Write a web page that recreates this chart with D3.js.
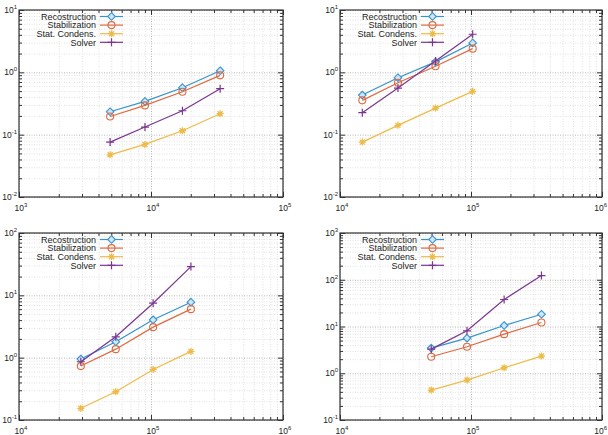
<!DOCTYPE html>
<html>
<head>
<meta charset="utf-8">
<script src="https://cdn.jsdelivr.net/npm/d3@7"></script>
<style>
  body { margin: 0; background: #fff; }
  svg { display: block; font-family: "Liberation Sans", Arial, sans-serif; }
</style>
</head>
<body>
<svg id="chart" width="608" height="435"></svg>
<script>
// series names and colours
const seriesNames = ["Recostruction", "Stabilization", "Stat. Condens.", "Solver"];
const seriesColors = ["#3593d0", "#de6a40", "#eebb48", "#7b3590"];
const seriesMarkers = ["diamond", "circle", "star", "plus"];

// panel 1
const p1_x = [4900, 9000, 17300, 33400];
const p1_recon = [0.233, 0.342, 0.567, 1.06];
const p1_stab = [0.196, 0.295, 0.489, 0.895];
const p1_stat = [0.0475, 0.0697, 0.1156, 0.217];
const p1_solver = [0.076, 0.1325, 0.242, 0.547];

// panel 2
const p2_x = [14800, 27700, 53600, 103000];
const p2_recon = [0.432, 0.82, 1.47, 2.96];
const p2_stab = [0.355, 0.682, 1.25, 2.40];
const p2_stat = [0.076, 0.141, 0.267, 0.495];
const p2_solver = [0.225, 0.56, 1.52, 4.08];

// panel 3
const p3_x = [29400, 54100, 103800, 200600];
const p3_recon = [0.95, 1.80, 4.05, 7.76];
const p3_stab = [0.733, 1.37, 3.09, 6.0];
const p3_stat = [0.154, 0.284, 0.648, 1.26];
const p3_solver = [0.86, 2.16, 7.48, 28.9];

// panel 4
const p4_x = [49700, 93200, 179000, 345000];
const p4_recon = [3.45, 5.64, 10.5, 18.3];
const p4_stab = [2.25, 3.68, 6.86, 12.2];
const p4_stat = [0.437, 0.715, 1.31, 2.33];
const p4_solver = [3.28, 8.08, 37.8, 122.7];

// axis exponents (x from..to, y from..to)
const p1_xexp = [3, 5], p1_yexp = [-2, 1];
const p2_xexp = [4, 6], p2_yexp = [-2, 1];
const p3_xexp = [4, 6], p3_yexp = [-1, 2];
const p4_xexp = [4, 6], p4_yexp = [-1, 3];

const panels = [
  {box: [19, 10, 283, 197], xexp: p1_xexp, yexp: p1_yexp, x: p1_x, ys: [p1_recon, p1_stab, p1_stat, p1_solver]},
  {box: [340, 10, 602, 197], xexp: p2_xexp, yexp: p2_yexp, x: p2_x, ys: [p2_recon, p2_stab, p2_stat, p2_solver]},
  {box: [19, 233, 283, 420], xexp: p3_xexp, yexp: p3_yexp, x: p3_x, ys: [p3_recon, p3_stab, p3_stat, p3_solver]},
  {box: [340, 233, 602, 420], xexp: p4_xexp, yexp: p4_yexp, x: p4_x, ys: [p4_recon, p4_stab, p4_stat, p4_solver]}
];

const svg = d3.select("#chart");
const W = 608;

function decadeTicks(e0, e1) {
  const major = [], minor = [];
  for (let e = e0; e <= e1; e++) {
    major.push(Math.pow(10, e));
    if (e < e1) for (let m = 2; m <= 9; m++) minor.push(m * Math.pow(10, e));
  }
  return {major, minor};
}

function drawMarker(g, type, cx, cy, color) {
  if (type === "diamond") {
    g.append("path")
      .attr("d", `M${cx},${cy-3.8}L${cx+3.8},${cy}L${cx},${cy+3.8}L${cx-3.8},${cy}Z`)
      .attr("fill", "#cfe6f5").attr("stroke", color).attr("stroke-width", 1.1);
  } else if (type === "circle") {
    g.append("circle").attr("cx", cx).attr("cy", cy).attr("r", 3.5)
      .attr("fill", "none").attr("stroke", color).attr("stroke-width", 1.1);
  } else if (type === "star") {
    const r = 3.5, d = 2.5;
    g.append("path")
      .attr("d", `M${cx-r},${cy}H${cx+r}M${cx},${cy-r}V${cy+r}M${cx-d},${cy-d}L${cx+d},${cy+d}M${cx-d},${cy+d}L${cx+d},${cy-d}`)
      .attr("stroke", color).attr("stroke-width", 1.3);
  } else {
    const r = 4;
    g.append("path")
      .attr("d", `M${cx-r},${cy}H${cx+r}M${cx},${cy-r}V${cy+r}`)
      .attr("stroke", color).attr("stroke-width", 1.2);
  }
}

function powerLabel(g, x, y, exp, anchor) {
  const t = g.append("text")
    .attr("x", x).attr("y", y)
    .attr("text-anchor", anchor)
    .attr("font-size", 8.5).attr("fill", "#222");
  t.append("tspan").text("10");
  t.append("tspan").attr("dy", -4).attr("font-size", 6).text(exp);
}

panels.forEach(p => {
  const [x0, y0, x1, y1] = p.box;
  const xs = d3.scaleLog().domain([Math.pow(10, p.xexp[0]), Math.pow(10, p.xexp[1])]).range([x0, x1]);
  const ys = d3.scaleLog().domain([Math.pow(10, p.yexp[0]), Math.pow(10, p.yexp[1])]).range([y1, y0]);
  const xt = decadeTicks(p.xexp[0], p.xexp[1]);
  const yt = decadeTicks(p.yexp[0], p.yexp[1]);
  const g = svg.append("g");

  // grid: minor lighter, major darker, both dotted
  [[xt.minor, yt.minor, "#e2e2e2"], [xt.major, yt.major, "#b8b8b8"]].forEach(([xv, yv, col]) => {
    g.append("g").attr("transform", `translate(0,${y1})`)
      .call(d3.axisBottom(xs).tickValues(xv).tickSize(y0 - y1).tickFormat(""))
      .call(a => a.select(".domain").remove())
      .selectAll("line").attr("stroke", col).attr("stroke-dasharray", "1,1.5");
    g.append("g").attr("transform", `translate(${x0},0)`)
      .call(d3.axisLeft(ys).tickValues(yv).tickSize(x0 - x1).tickFormat(""))
      .call(a => a.select(".domain").remove())
      .selectAll("line").attr("stroke", col).attr("stroke-dasharray", "1,1.5");
  });

  // inward ticks on all four sides
  const tickAxes = [
    [() => d3.axisBottom(xs), `translate(0,${y1})`, xt],
    [() => d3.axisTop(xs), `translate(0,${y0})`, xt],
    [() => d3.axisLeft(ys), `translate(${x0},0)`, yt],
    [() => d3.axisRight(ys), `translate(${x1},0)`, yt]
  ];
  tickAxes.forEach(([mk, tr, t]) => {
    g.append("g").attr("transform", tr)
      .call(mk().tickValues(t.minor).tickSize(-3).tickFormat(""))
      .call(a => a.select(".domain").remove())
      .selectAll("line").attr("stroke", "#333");
    g.append("g").attr("transform", tr)
      .call(mk().tickValues(t.major).tickSize(-5).tickFormat(""))
      .call(a => a.select(".domain").remove())
      .selectAll("line").attr("stroke", "#333");
  });

  // frame
  g.append("rect")
    .attr("x", x0).attr("y", y0).attr("width", x1 - x0).attr("height", y1 - y0)
    .attr("fill", "none").attr("stroke", "#333").attr("stroke-width", 1.2);

  // tick labels (last x label kept inside the page)
  xt.major.forEach(v => {
    const px = xs(v) + 2;
    if (px + 8 > W) powerLabel(g, W - 1, y1 + 14, Math.round(Math.log10(v)), "end");
    else powerLabel(g, px, y1 + 14, Math.round(Math.log10(v)), "middle");
  });
  yt.major.forEach(v => powerLabel(g, x0 - 2, ys(v) + 3, Math.round(Math.log10(v)), "end"));

  // series
  const line = d3.line().x(d => xs(d[0])).y(d => ys(d[1]));
  p.ys.forEach((vals, i) => {
    const pts = p.x.map((xv, j) => [xv, vals[j]]);
    const sg = g.append("g");
    sg.append("path").datum(pts).attr("d", line)
      .attr("fill", "none").attr("stroke", seriesColors[i]).attr("stroke-width", 1.2);
    pts.forEach(d => drawMarker(sg, seriesMarkers[i], xs(d[0]), ys(d[1]), seriesColors[i]));
  });

  // legend
  seriesNames.forEach((name, i) => {
    const ly = y0 + 6.5 + i * 8.6;
    const lx = x0 + 77;
    g.append("text").attr("x", lx).attr("y", ly + 3.2)
      .attr("text-anchor", "end").attr("font-size", 9).attr("fill", "#222").text(name);
    g.append("line").attr("x1", lx + 4).attr("x2", lx + 27).attr("y1", ly).attr("y2", ly)
      .attr("stroke", seriesColors[i]).attr("stroke-width", 1.2);
    drawMarker(g, seriesMarkers[i], lx + 15.5, ly, seriesColors[i]);
  });
});
</script>
</body>
</html>
